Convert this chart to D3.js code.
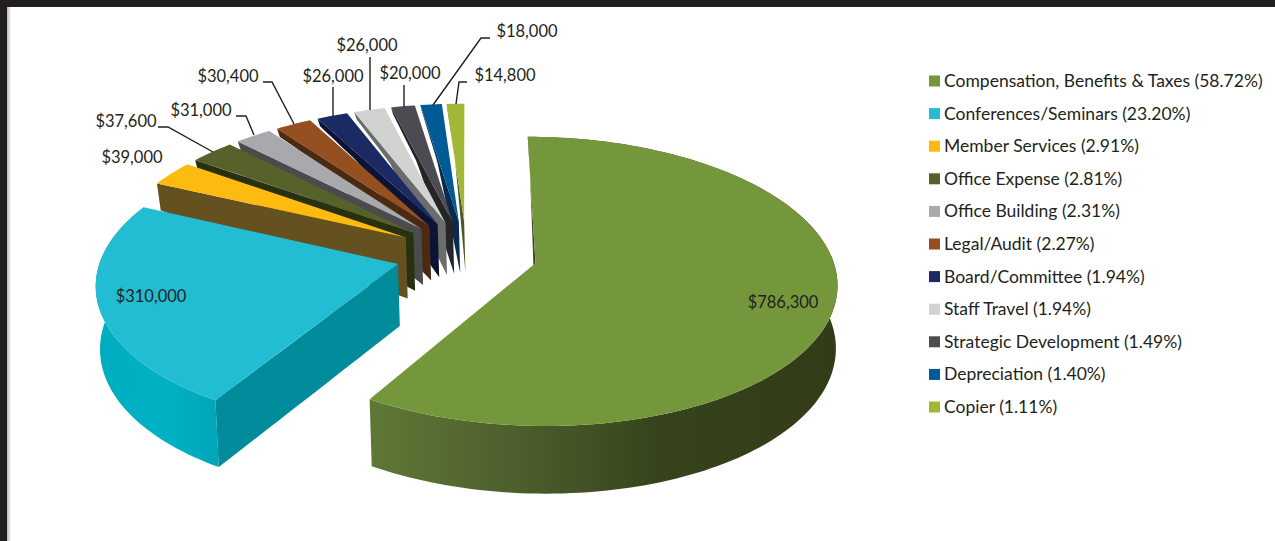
<!DOCTYPE html>
<html>
<head>
<meta charset="utf-8">
<script src="https://cdn.jsdelivr.net/npm/d3@7/dist/d3.min.js"></script>
<style>
  html, body { margin: 0; padding: 0; background: #fff; }
  svg { display: block; }
  text { font-family: "Lato", "Noto Sans", sans-serif; fill: #231f20; }
</style>
</head>
<body>
<div id="chart"></div>
<script>
// Expense categories and the amounts behind each slice
const categories = ["Compensation, Benefits & Taxes", "Conferences/Seminars", "Member Services",
  "Office Expense", "Office Building", "Legal/Audit", "Board/Committee", "Staff Travel",
  "Strategic Development", "Depreciation", "Copier"];
const amounts = [786300, 310000, 39000, 37600, 31000, 30400, 26000, 26000, 20000, 18000, 14800];
const percents = ["58.72", "23.20", "2.91", "2.81", "2.31", "2.27", "1.94", "1.94", "1.49", "1.40", "1.11"];

// Top and side face colours
const topColors = ["#75973c", "#22bdd2", "#fdbb12", "#566229", "#a7a9ac", "#964f21",
  "#1c2a63", "#d1d3d0", "#4a4c52", "#005a96", "#a3b736"];
const sideColors = ["#39481b", "#008c9b", "#65501f", "#27300f", "#4b4b4e", "#4a2a10",
  "#0b1434", "#6b6c6c", "#242528", "#0a2a4e", "#4d5525"];

// Where each value label sits, and the elbow of its leader line if it has one
const labelLayout = [
  { x: 783, y: 302 },
  { x: 151, y: 296 },
  { x: 132, y: 157 },
  { x: 126, y: 121, leader: [[158, 127], [168, 127]], tip: [213, 152] },
  { x: 201, y: 110, leader: [[236, 116], [246, 116]], tip: [254, 135] },
  { x: 228, y: 76, leader: [[263, 82], [272, 82]], tip: [294, 124] },
  { x: 333, y: 76, leader: [[333, 87]], tip: [333, 116] },
  { x: 367, y: 45, leader: [[370, 57]], tip: [370, 110] },
  { x: 410, y: 73, leader: [[404, 85]], tip: [404, 107] },
  { x: 527, y: 31, leader: [[490, 38], [481, 38]], tip: [433, 105] },
  { x: 505, y: 75, leader: [[467, 82], [459, 82]], tip: [456, 104] }
];

const width = 1275, height = 541;
const svg = d3.select("#chart").append("svg").attr("width", width).attr("height", height);

// Page frame: dark bar along the top and left edges, with a soft inner shadow
const defs = svg.append("defs");
const edge = defs.append("linearGradient").attr("id", "edgeShade");
edge.append("stop").attr("offset", 0).attr("stop-color", "#b5b5b5");
edge.append("stop").attr("offset", 1).attr("stop-color", "#ffffff");

// Pie plane seen in perspective: plan coordinates (unit radius) to the screen
const cx = 466.5, cy = 254, rx = 296, ry = 140, persp = 0.125, explode = 0.24;
const project = (X, Y) => {
  const s = 1 / (1 - persp * Y);
  return [cx + rx * X * s, cy + ry * Y * s];
};
// Wall height shrinks sharply towards the back of the plane
const wallHeight = d3.scaleLinear().domain([-1.3, -0.8, -0.54, -0.12, 1.3]).range([6, 10, 27, 61, 69]);
// The underside of the pie leans towards a point right of the centre
const undersideX = 635, undersideInset = 0.992;

const arcs = d3.pie().sort(null).value(d => d)(amounts);
const line = d3.line();

const slices = arcs.map(a => {
  const mid = (a.startAngle + a.endAngle) / 2;
  const ox = explode * Math.sin(mid), oy = -explode * Math.cos(mid);
  const rim = t => [ox + Math.sin(t), oy - Math.cos(t)];
  const n = Math.max(4, Math.ceil((a.endAngle - a.startAngle) * 40));
  const rimPts = d3.range(n + 1).map(i => rim(a.startAngle + (a.endAngle - a.startAngle) * i / n));
  return { a, apex: [ox, oy], rim, rimPts };
});

const upper = p => project(p[0], p[1]);
const lower = p => {
  const q = project(p[0], p[1]);
  return [undersideX + (q[0] - undersideX) * undersideInset, q[1] + wallHeight(p[1])];
};

// Outer wall gradients for the two large slices
const gradients = [
  { id: "wall0", x1: 374, x2: 838, stops: [[0, "#5f7736"], [0.3, "#4d5f2c"], [0.62, "#36431b"], [1, "#323c18"]] },
  { id: "wall1", x1: 96, x2: 218, stops: [[0, "#00adc0"], [0.6, "#00b1c4"], [1, "#00a6b8"]] }
];
gradients.forEach(g => {
  const lg = defs.append("linearGradient").attr("id", g.id).attr("gradientUnits", "userSpaceOnUse")
    .attr("x1", g.x1).attr("x2", g.x2).attr("y1", 0).attr("y2", 0);
  g.stops.forEach(s => lg.append("stop").attr("offset", s[0]).attr("stop-color", s[1]));
});

const pie = svg.append("g");

// Painter's order: the back slices first, the two large slices last
const order = d3.range(2, slices.length).reverse().concat([1, 0]);
order.forEach(i => {
  const s = slices[i];
  const g = pie.append("g");
  // Outer wall of the rim
  if (i < 2) {
    const pts = s.rimPts.map(upper).concat(s.rimPts.slice().reverse().map(lower));
    g.append("path").attr("d", line(pts) + "Z").attr("fill", `url(#wall${i})`);
  }
  // Cut face along the slice's leading edge
  const steps = d3.range(0, 21).map(j => {
    const t = j / 20, r = s.rimPts[0];
    return [s.apex[0] + (r[0] - s.apex[0]) * t, s.apex[1] + (r[1] - s.apex[1]) * t];
  });
  g.append("path")
    .attr("d", line(steps.map(upper).concat(steps.slice().reverse().map(lower))) + "Z")
    .attr("fill", sideColors[i]);
  // Top face
  g.append("path")
    .attr("d", line([upper(s.apex)].concat(s.rimPts.map(upper))) + "Z")
    .attr("fill", topColors[i]);
});

// Value labels and leader lines
const money = d3.format("$,");
labelLayout.forEach((l, i) => {
  svg.append("text").attr("x", l.x).attr("y", l.y + 6)
    .attr("text-anchor", "middle").attr("font-size", 16.5).text(money(amounts[i]));
  if (l.leader) {
    svg.append("path").attr("d", line(l.leader.concat([l.tip])))
      .attr("fill", "none").attr("stroke", "#231f20").attr("stroke-width", 1.4);
  }
});

// Legend
const legendY = d3.scalePoint().domain(categories).range([81, 407]);
const legend = svg.append("g");
categories.forEach((c, i) => {
  legend.append("rect").attr("x", 929).attr("y", legendY(c) - 5.5)
    .attr("width", 11).attr("height", 11).attr("fill", topColors[i]);
  legend.append("text").attr("x", 944).attr("y", legendY(c) + 6)
    .attr("font-size", 17.5).text(`${c} (${percents[i]}%)`);
});

// Frame
svg.append("rect").attr("x", 7).attr("y", 7).attr("width", 4).attr("height", height - 7).attr("fill", "url(#edgeShade)");
svg.append("rect").attr("x", 0).attr("y", 0).attr("width", width).attr("height", 7).attr("fill", "#231f20");
svg.append("rect").attr("x", 0).attr("y", 0).attr("width", 7).attr("height", height).attr("fill", "#231f20");
</script>
</body>
</html>
